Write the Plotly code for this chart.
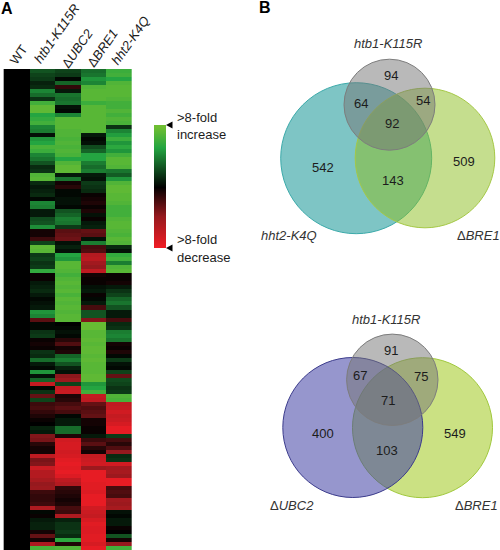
import plotly.graph_objects as go

samples = ["WT", "htb1-K115R", "ΔUBC2", "ΔBRE1", "hht2-K4Q"]

wt = [0] * 120
htb1 = [1.0,.8,.7,.4,.5,1.6,1.3,.6,2.4,2.8,
        2.8,2.0,2.2,2.4,1.6,1.5,.2,1.8,2.0,2.5,
        2.3,1.6,1.4,1.0,.5,.6,2.6,2.7,
        .5,.3,.4,.5,.1,1.6,1.5,.3,.3,.9,1.0,1.7,-.2,-.2,-.6,.8,2.8,2.7,.7,.8,.6,.7,2.2,-.1,-.1,.3,.4,.5,.3,.1,.2,.3,1.8,1.6,-.9,.1,.1,.6,.7,-.1,-.2,-.1,.6,.5,1.3,.3,.1,1.8,
        .2,1.2,-2.3,.1,.6,-1,.8,-.6,-.7,-.5,-.3,-.1,0,.4,.3,-1.3,-1.2,-.4,-.2,-.2,-2.2,-1.2,-1.3,-2.4,-2.0,-2.0,-1.8,-1.5,-1.6,-.6,-.5,-.5,-.6,-1.9,.1,-.1,.3,.4,.4,-.2,-1.0,-.2,-1.9,2.5]
ubc2 = [.8,.7,.1,1.2,-.5,.3,1.4,1.3,1.4,.2,
        .1,1.6,2.7,2.7,2.7,2.6,2.6,2.5,2.6,2.5,
        2.6,2.5,2.0,2.6,2.8,2.8,.3,1.4,
        -.2,-.4,.1,.1,.2,.2,.1,1.0,1.2,1.5,1.4,.7,-.9,-1.0,-1.1,.2,.4,.2,2.0,1.8,2.7,2.7,2.6,2.4,2.6,2.7,2.6,2.7,2.5,2.7,2.6,2.7,2.6,2.7,2.7,0,.1,.2,.1,-.4,-.8,-.2,-.3,1.2,1.5,1.0,.4,.2,
        -1.4,-1.6,.8,-2.3,-2.4,-.3,-.4,-.7,-.9,-.7,.1,.3,.3,1.3,1.3,-.3,-2.5,-2.6,-2.6,-2.5,-2.6,-2.8,-2.9,-2.8,-2.9,-2.7,-2.2,-2.0,-.5,-.4,-.3,-.2,-.3,-.7,-.6,-1.9,.4,.6,.6,.7,.5,2.1,-.3,2.6]
bre1 = [1.3,1.4,1.8,1.6,2.6,2.7,2.7,2.7,2.3,2.7,
        2.7,2.7,2.7,2.7,2.7,2.7,.3,.1,.2,.9,
        1.2,2.0,2.0,1.5,1.3,1.5,.3,.2,
        .7,.6,.5,-.1,-.2,-.3,-.1,-.3,.2,-.1,.3,.4,-1,-.9,.2,1.5,-.7,-.8,-2.0,-2.1,-1.7,-1.5,-2.2,-.2,-.1,-.1,.2,.3,-.1,.1,.3,-.7,1.0,1.0,-1.3,2.9,2.9,2.7,2.7,2.8,2.7,2.8,2.8,2.7,2.8,2.7,2.7,2.7,
        2.8,2.8,1.8,2.0,2.4,-2.3,-2.2,-1.0,-.8,-.9,-1.0,-.2,-.2,-.1,-.1,.3,-.6,-.9,-.4,-.2,-2.3,-2.4,-2.5,-1.6,-2.9,-2.9,-2.9,-2.8,-2.8,-2.7,-2.9,-2.9,-2.9,-2.5,-2.4,-2.3,-2.6,-2.8,-2.7,-2.7,-2.8,-2.8,-2.6,-2.9]
hht2 = [2.3,2.4,2.0,2.6,2.7,2.7,2.7,2.6,2.4,2.4,
        2.6,2.4,2.6,2.5,.6,1.6,1.9,2.3,1.8,2.1,
        1.8,2.4,2.7,2.7,2.6,1.4,1.1,1.8,
        2.6,2.8,2.8,2.7,2.7,2.6,2.4,2.4,2.4,2.6,2.7,2.7,2.6,2.5,2.7,2.6,.5,.2,2.2,2.4,1.5,2.6,2.7,-.1,-.1,-.2,.3,.6,.8,1.2,1.4,1.0,.3,.3,-.7,.5,.6,1.5,1.6,1.4,-.2,-.1,-.3,.1,.7,.2,.1,.8,
        -1.0,.9,.8,.6,.7,2.6,2.5,-2.2,-2.3,-2.5,-2.3,-2.4,-2.6,-2.9,-2.9,.7,-.7,-.4,-.8,-1.5,.5,.6,-2.5,-1.7,-1.8,-1.6,-2.9,-2.9,-.7,-.8,-.7,-1.7,-1.6,-1.8,.2,.1,.3,.3,-.1,0,1.0,-.2,-1.5,2.4]

legend_levels = [3,2.75,2.5,2.25,2,1.75,1.5,1.25,1,.75,.5,.25,0,-.25,-.5,-.75,-1,-1.25,-1.5,-1.75,-2,-2.25,-2.5,-2.75,-3]

colorscale = [[0, "rgb(237,28,36)"], [.25, "rgb(150,25,30)"], [.5, "rgb(0,0,0)"],
              [.83, "rgb(35,165,65)"], [1, "rgb(110,190,50)"]]

venn_top_numbers = ["94", "64", "54", "92", "542", "143", "509"]
venn_bottom_numbers = ["91", "67", "75", "71", "400", "103", "549"]
venn_top_labels = ["htb1-K115R", "hht2-K4Q", "ΔBRE1"]
venn_bottom_labels = ["htb1-K115R", "ΔUBC2", "ΔBRE1"]

W, H = 500, 550
def px(x): return x / W
def py(y): return 1 - y / H

FONT = "Liberation Sans"
TXT = "#1c1c1c"
fig = go.Figure()

fig.add_trace(go.Heatmap(
    z=[list(r) for r in zip(wt, htb1, ubc2, bre1, hht2)],
    x=samples, y=list(range(120)),
    colorscale=colorscale, zmin=-3, zmax=3, showscale=False, xaxis="x", yaxis="y"))
fig.add_trace(go.Heatmap(
    z=[[v] for v in legend_levels], y=list(range(len(legend_levels))),
    colorscale=colorscale, zmin=-3, zmax=3, showscale=False, zsmooth="best",
    xaxis="x2", yaxis="y2"))

hide = dict(visible=False, showgrid=False, zeroline=False, fixedrange=True)
fig.update_layout(
    width=W, height=H, margin=dict(l=0, r=0, t=0, b=0), autosize=False,
    paper_bgcolor="white", plot_bgcolor="white", showlegend=False,
    xaxis=dict(domain=[px(4), px(131.7)], **hide),
    yaxis=dict(domain=[py(550), py(69)], autorange="reversed", **hide),
    xaxis2=dict(domain=[px(154), px(166)], anchor="y2", **hide),
    yaxis2=dict(domain=[py(248), py(125)], anchor="x2", autorange="reversed", **hide),
)

shapes = [dict(type="line", xref="paper", yref="paper", x0=px(3.5), x1=px(3.5), y0=py(69), y1=py(550),
               line=dict(color="#aaaaaa", width=1))]

def circle(cx, cy, r, fill, line):
    return dict(type="circle", xref="paper", yref="paper", x0=px(cx - r), x1=px(cx + r),
                y0=py(cy + r), y1=py(cy - r), fillcolor=fill, line=dict(color=line, width=1), layer="above")

shapes += [
    circle(356.2, 158.2, 75.5, "rgba(20,150,150,0.55)", "rgb(60,170,170)"),
    circle(425, 158, 69.8, "rgba(140,190,30,0.5)", "rgb(165,200,70)"),
    circle(389.5, 104.7, 45.5, "rgba(115,115,115,0.5)", "rgb(125,125,125)"),
    circle(422.5, 427.7, 70, "rgba(160,200,30,0.55)", "rgb(160,200,60)"),
    circle(352.8, 427.5, 70, "rgba(64,64,164,0.55)", "rgb(60,60,140)"),
    circle(392.3, 379.8, 45.7, "rgba(115,115,115,0.5)", "rgb(125,125,125)"),
]
for y0 in (125, 248):
    shapes.append(dict(type="path", xref="paper", yref="paper", fillcolor="black", line=dict(width=0),
                       path=f"M {px(166)} {py(y0)} L {px(172.5)} {py(y0 - 3.5)} L {px(172.5)} {py(y0 + 3.5)} Z"))
fig.update_layout(shapes=shapes)

ann = []
def text(t, x, y, size=13, angle=0, anchor="center", color=TXT):
    ann.append(dict(text=t, x=px(x), y=py(y), xref="paper", yref="paper", showarrow=False,
                    xanchor=anchor, yanchor="middle", textangle=angle,
                    font=dict(family=FONT, size=size, color=color)))

def sample_html(s):
    return "Δ<i>" + s[1:] + "</i>" if s.startswith("Δ") else ("<i>" + s + "</i>" if s != "WT" else s)

col_pos = [(19, 55), (57, 34), (77, 48), (102, 48), (130, 40)]
for s, (x, y) in zip(samples, col_pos):
    text(sample_html(s), x, y, size=13, angle=-55)

text("<b>A</b>", 7, 9, size=16, color="black")
text("<b>B</b>", 265, 8, size=16, color="black")
text("&gt;8-fold", 175, 117, anchor="left")
text("increase", 175, 134, anchor="left")
text("&gt;8-fold", 175, 240, anchor="left")
text("decrease", 175, 257, anchor="left")

pos_top = [(391.3, 75.7), (361, 103.7), (423.3, 100.7), (392.3, 123.7), (322.7, 167.7), (393.3, 180), (463.7, 161.7)]
pos_bot = [(391, 350), (360, 375.3), (421, 376.3), (388.3, 400.7), (322.7, 433), (387.3, 450.7), (454.7, 433.3)]
for n, (x, y) in zip(venn_top_numbers, pos_top):
    text(n, x, y)
for n, (x, y) in zip(venn_bottom_numbers, pos_bot):
    text(n, x, y)
for s, (x, y) in zip(venn_top_labels, [(388.3, 43.3), (289.3, 235), (478.3, 235)]):
    text(sample_html(s), x, y, color="#333333")
for s, (x, y) in zip(venn_bottom_labels, [(386, 319), (291.7, 505), (476.7, 505)]):
    text(sample_html(s), x, y, color="#333333")

fig.update_layout(annotations=ann)
fig.write_html("out.html", config={"displayModeBar": False},
               post_script="document.body.style.margin='0';document.documentElement.style.overflow='hidden';")
